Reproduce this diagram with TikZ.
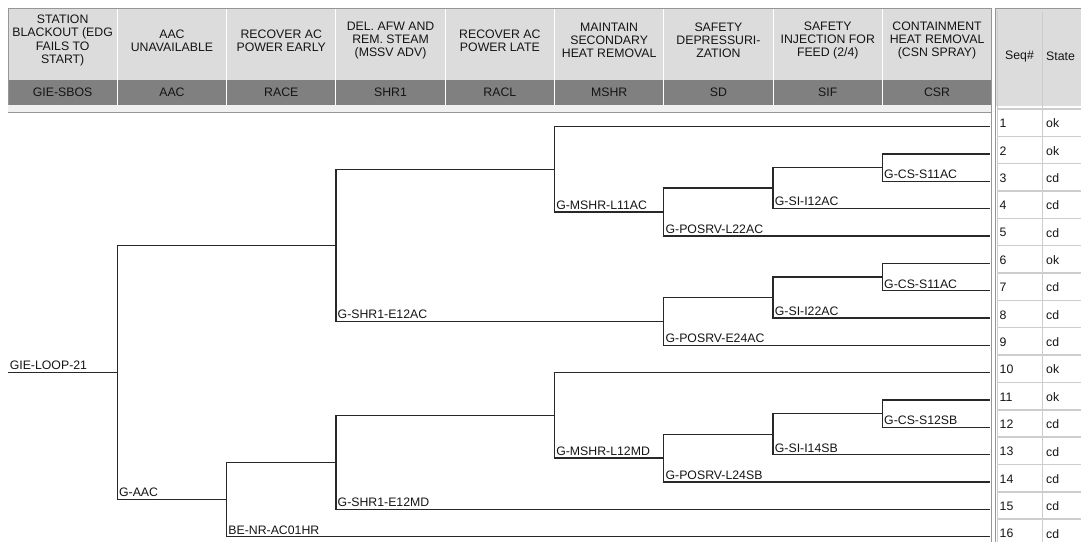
\documentclass[tikz,border=0pt]{standalone}
\usepackage{fontspec}
\setmainfont{Liberation Sans}
\usepackage{xcolor}
\usetikzlibrary{calc}
\definecolor{ethdr}{RGB}{220,220,220}
\definecolor{etcode}{RGB}{128,128,128}
\definecolor{etstrip}{RGB}{240,240,240}
\definecolor{etframe}{RGB}{150,150,150}
\definecolor{etgrid}{RGB}{205,205,205}
\definecolor{etink}{RGB}{40,40,40}
\definecolor{ettext}{RGB}{20,20,20}
\newcommand{\etfont}{\fontsize{12.3}{13.1}\selectfont}
\tikzset{
  etline/.style={draw=etink, line width=1.3pt},
  etlbl/.style={anchor=south west, inner xsep=1.6pt, inner ysep=2.4pt,
    text depth=0pt, font=\etfont, text=ettext},
  hdr/.style={align=center, inner sep=0pt, font=\etfont, text=ettext},
  code/.style={hdr},
  cellt/.style={anchor=west, inner sep=0pt, font=\etfont, text=ettext},
  sep/.style={draw=white, line width=1pt},
  gridln/.style={draw=etgrid, line width=1.5pt}
}
\begin{document}
\begin{tikzpicture}[x=1pt,y=-1pt]
  \useasboundingbox (0,0) rectangle (1081,542);
  \clip (0,0) rectangle (1081,542);

  % header of the tree
  \fill[ethdr] (8,8) rectangle (991,80);
  \fill[etcode] (8,80) rectangle (991,105);
  \fill[etstrip] (8,105) rectangle (991,112.5);
  \draw[etframe, line width=1pt] (8,105) -- (8,8) -- (991,8) -- (991,542);
  \draw[etframe, line width=1.2pt] (8,112.5) -- (991,112.5);
  \foreach \i in {1,...,8}
    \draw[sep] ({8+109.3*\i},9) -- ({8+109.3*\i},105);

  \node[hdr] (hSBOS) at (62.65,40.5) {STATION\\BLACKOUT (EDG\\FAILS TO\\START)};
  \node[hdr] (hAAC) at (171.95,40.5) {AAC\\UNAVAILABLE};
  \node[hdr] (hRACE) at (281.25,40.5) {RECOVER AC\\POWER EARLY};
  \node[hdr] (hSHR) at (390.55,40.5) {DEL. AFW AND\\REM. STEAM\\(MSSV ADV)};
  \node[hdr] (hRACL) at (499.85,40.5) {RECOVER AC\\POWER LATE};
  \node[hdr] (hMSHR) at (609.15,40.5) {MAINTAIN\\SECONDARY\\HEAT REMOVAL};
  \node[hdr] (hSD) at (718.45,40.5) {SAFETY\\DEPRESSURI-\\ZATION};
  \node[hdr] (hSIF) at (827.75,40.5) {SAFETY\\INJECTION FOR\\FEED (2/4)};
  \node[hdr] (hCSR) at (937.05,40.5) {CONTAINMENT\\HEAT REMOVAL\\(CSN SPRAY)};

  \node[code] (cSBOS) at (62.65,92.5) {GIE-SBOS};
  \node[code] (cAAC) at (171.95,92.5) {AAC};
  \node[code] (cRACE) at (281.25,92.5) {RACE};
  \node[code] (cSHR) at (390.55,92.5) {SHR1};
  \node[code] (cRACL) at (499.85,92.5) {RACL};
  \node[code] (cMSHR) at (609.15,92.5) {MSHR};
  \node[code] (cSD) at (718.45,92.5) {SD};
  \node[code] (cSIF) at (827.75,92.5) {SIF};
  \node[code] (cCSR) at (937.05,92.5) {CSR};

  % sequence table
  \fill[ethdr] (995,8) rectangle (1081,106);
  \foreach \k in {0,...,16}
    \draw[gridln] (997,{108.9+27.35*\k}) -- (1081,{108.9+27.35*\k});
  \draw[gridln] (1042.7,106) -- (1042.7,542);
  \draw[draw=white!80!black, line width=1pt] (1042.7,12) -- (1042.7,106);
  \draw[etframe, line width=1pt] (995,542) -- (995,8) -- (1081,8);
  \draw[etgrid, line width=1.5pt] (997.6,11) -- (997.6,542);
  \node[hdr] (hSeq) at (1019.5,56) {Seq\#};
  \node[cellt] (hState) at (1046,56) {State};
  \foreach \k/\st in {1/ok,2/ok,3/cd,4/cd,5/cd,6/ok,7/cd,8/cd,
                      9/cd,10/ok,11/ok,12/cd,13/cd,14/cd,15/cd,16/cd} {
    \node[cellt] (n\k) at (999.5,{108.9+27.35*(\k-1)+14.5}) {\k};
    \node[cellt] (st\k) at (1046,{108.9+27.35*(\k-1)+14.5}) {\st};
  }

  % end points of the sequences
  \foreach \k in {1,...,16}
    \coordinate (s\k) at (990,{126.5+27.35*(\k-1)});

  % branch points
  \coordinate (init) at (8,372.44);
  \coordinate (aac) at (117.3,372.44);
  \coordinate (race) at (226.6,499.57);
  \coordinate (shrA) at (335.9,245.3);
  \coordinate (shrB) at (335.9,462.39);
  \coordinate (mshrA) at (554.5,169.23);
  \coordinate (mshrB) at (554.5,415.39);
  \coordinate (posrvA) at (663.8,211.97);
  \coordinate (posrvB) at (663.8,321.37);
  \coordinate (posrvC) at (663.8,458.12);
  \coordinate (siA) at (773.1,188.04);
  \coordinate (siB) at (773.1,297.44);
  \coordinate (siC) at (773.1,434.19);
  \coordinate (csA) at (882.4,167.53);
  \coordinate (csB) at (882.4,276.93);
  \coordinate (csC) at (882.4,413.68);

  \draw[etline] (init) -- (aac);
  \draw[etline] (aac) |- (shrA);
  \draw[etline] (aac) |- (race);
  \draw[etline] (shrA) |- (mshrA);
  \draw[etline] (shrA) |- (posrvB);
  \draw[etline] (mshrA) |- (s1);
  \draw[etline] (mshrA) |- (posrvA);
  \draw[etline] (posrvA) |- (siA);
  \draw[etline] (posrvA) |- (s5);
  \draw[etline] (siA) |- (csA);
  \draw[etline] (siA) |- (s4);
  \draw[etline] (csA) |- (s2);
  \draw[etline] (csA) |- (s3);
  \draw[etline] (posrvB) |- (siB);
  \draw[etline] (posrvB) |- (s9);
  \draw[etline] (siB) |- (csB);
  \draw[etline] (siB) |- (s8);
  \draw[etline] (csB) |- (s6);
  \draw[etline] (csB) |- (s7);
  \draw[etline] (race) |- (shrB);
  \draw[etline] (race) |- (s16);
  \draw[etline] (shrB) |- (mshrB);
  \draw[etline] (shrB) |- (s15);
  \draw[etline] (mshrB) |- (s10);
  \draw[etline] (mshrB) |- (posrvC);
  \draw[etline] (posrvC) |- (siC);
  \draw[etline] (posrvC) |- (s14);
  \draw[etline] (siC) |- (csC);
  \draw[etline] (siC) |- (s13);
  \draw[etline] (csC) |- (s11);
  \draw[etline] (csC) |- (s12);

  % branch labels
  \node[etlbl] (lInit) at (init) {GIE-LOOP-21};
  \node[etlbl] (lAAC) at (aac |- race) {G-AAC};
  \node[etlbl] (lRACE) at (race |- s16) {BE-NR-AC01HR};
  \node[etlbl] (lSHRA) at (shrA |- posrvB) {G-SHR1-E12AC};
  \node[etlbl] (lSHRB) at (shrB |- s15) {G-SHR1-E12MD};
  \node[etlbl] (lMSHRA) at (mshrA |- posrvA) {G-MSHR-L11AC};
  \node[etlbl] (lMSHRB) at (mshrB |- posrvC) {G-MSHR-L12MD};
  \node[etlbl] (lPOSA) at (posrvA |- s5) {G-POSRV-L22AC};
  \node[etlbl] (lPOSB) at (posrvB |- s9) {G-POSRV-E24AC};
  \node[etlbl] (lPOSC) at (posrvC |- s14) {G-POSRV-L24SB};
  \node[etlbl] (lSIA) at (siA |- s4) {G-SI-I12AC};
  \node[etlbl] (lSIB) at (siB |- s8) {G-SI-I22AC};
  \node[etlbl] (lSIC) at (siC |- s13) {G-SI-I14SB};
  \node[etlbl] (lCSA) at (csA |- s3) {G-CS-S11AC};
  \node[etlbl] (lCSB) at (csB |- s7) {G-CS-S11AC};
  \node[etlbl] (lCSC) at (csC |- s12) {G-CS-S12SB};
\end{tikzpicture}
\end{document}
